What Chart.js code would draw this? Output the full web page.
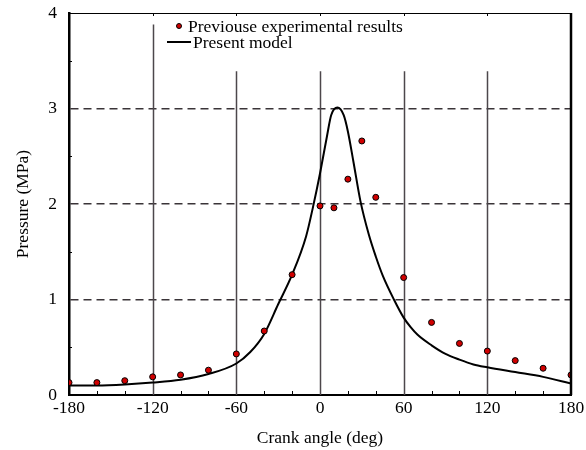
<!DOCTYPE html>
<html>
<head>
<meta charset="utf-8">
<script src="https://cdn.jsdelivr.net/npm/chart.js@4"></script>
<style>
  body { margin: 0; background: #fff; }
  #wrap { position: relative; width: 586px; height: 450px; }
  .legend { position: absolute; font: 17.5px "Liberation Serif", "Times New Roman", serif; color: #000; white-space: nowrap; line-height: 18px; }
  .dot { position: absolute; width: 4px; height: 4px; border-radius: 50%; background: #d00000; border: 1px solid #000; }
  .line { position: absolute; height: 2px; background: #000; }
</style>
</head>
<body>
<div id="wrap">
  <canvas id="chart" width="586" height="450"></canvas>
  <span class="dot" style="left:176px; top:23px;"></span>
  <span class="legend" style="left:188px; top:17px;">Previouse experimental results</span>
  <span class="line" style="left:167px; top:41px; width:24px;"></span>
  <span class="legend" style="left:193px; top:33px;">Present model</span>
</div>
<script>
// Previous experimental results (crank angle in deg, pressure in MPa)
const EXP_X = [-180, -160, -140, -120, -100, -80, -60, -40, -20, 0, 10, 20, 30, 40, 60, 80, 100, 120, 140, 160, 180];
const EXP_Y = [0.13, 0.13, 0.15, 0.19, 0.21, 0.26, 0.43, 0.67, 1.26, 1.98, 1.96, 2.26, 2.66, 2.07, 1.23, 0.76, 0.54, 0.46, 0.36, 0.28, 0.21];

// Present model curve
const MODEL_X = [-180, -160, -140, -120, -100, -80, -60, -50, -40, -30, -20, -10, -5, 0, 5, 8, 12.5, 17, 20, 24, 29, 35, 40, 45, 53, 60, 65, 70, 80, 90, 100, 110, 120, 140, 160, 180];
const MODEL_Y = [0.10, 0.10, 0.11, 0.13, 0.16, 0.22, 0.33, 0.45, 0.64, 0.95, 1.26, 1.66, 1.97, 2.32, 2.71, 2.93, 3.01, 2.93, 2.76, 2.44, 2.03, 1.68, 1.45, 1.25, 1.0, 0.81, 0.71, 0.63, 0.52, 0.43, 0.37, 0.32, 0.29, 0.24, 0.19, 0.12];

// Axis ticks
const X_TICKS = [-180, -120, -60, 0, 60, 120, 180];
const Y_TICKS = [0, 1, 2, 3, 4];
const X_MINOR = [-160, -140, -100, -80, -40, -20, 20, 40, 80, 100, 140, 160];
const Y_MINOR = [0.5, 1.5, 2.5, 3.5];

// Vertical reference lines and how high they reach (MPa)
const VLINE_X = [-120, -60, 0, 60, 120];
const VLINE_TOP = [3.88, 3.39, 3.39, 3.39, 3.39];

const FONT = { family: '"Liberation Serif", "Times New Roman", serif', size: 17.5 };

const toPoints = (xs, ys) => xs.map((x, i) => ({ x: x, y: ys[i] }));

// Draws the vertical lines, frame and small inward ticks
const framePlugin = {
  id: 'frame',
  beforeDatasetsDraw(chart) {
    const { ctx, scales: { x, y } } = chart;
    ctx.save();
    ctx.strokeStyle = '#4d474b';
    ctx.lineWidth = 1.5;
    VLINE_X.forEach((v, i) => {
      const px = Math.round(x.getPixelForValue(v)) + 0.5;
      ctx.beginPath();
      ctx.moveTo(px, y.getPixelForValue(VLINE_TOP[i]));
      ctx.lineTo(px, y.getPixelForValue(0));
      ctx.stroke();
    });
    ctx.restore();
  },
  afterDatasetsDraw(chart) {
    const { ctx, chartArea: a, scales: { x, y } } = chart;
    ctx.save();
    ctx.strokeStyle = '#000';
    // frame
    ctx.lineWidth = 1;
    ctx.beginPath();
    ctx.moveTo(a.left, a.top + 0.5);
    ctx.lineTo(a.right, a.top + 0.5);
    ctx.stroke();
    ctx.lineWidth = 2.5;
    ctx.beginPath();
    ctx.moveTo(a.right, a.top);
    ctx.lineTo(a.right, a.bottom);
    ctx.stroke();
    // minor ticks
    ctx.lineWidth = 1;
    X_MINOR.forEach(v => {
      const px = Math.round(x.getPixelForValue(v)) + 0.5;
      ctx.beginPath();
      ctx.moveTo(px, a.bottom);
      ctx.lineTo(px, a.bottom - 4);
      ctx.stroke();
    });
    X_TICKS.forEach(v => {
      const px = Math.round(x.getPixelForValue(v)) + 0.5;
      ctx.beginPath();
      ctx.moveTo(px, a.top);
      ctx.lineTo(px, a.top + 3);
      ctx.stroke();
    });
    Y_MINOR.forEach(v => {
      const py = Math.round(y.getPixelForValue(v)) + 0.5;
      ctx.beginPath();
      ctx.moveTo(a.left, py);
      ctx.lineTo(a.left + 3, py);
      ctx.stroke();
    });
    ctx.restore();
  }
};

new Chart(document.getElementById('chart'), {
  type: 'scatter',
  data: {
    datasets: [
      {
        label: 'Present model',
        type: 'line',
        data: toPoints(MODEL_X, MODEL_Y),
        borderColor: '#000',
        borderWidth: 2,
        pointRadius: 0,
        cubicInterpolationMode: 'monotone',
        fill: false,
        order: 2,
      },
      {
        label: 'Previouse experimental results',
        data: toPoints(EXP_X, EXP_Y),
        backgroundColor: '#d00000',
        borderColor: '#000',
        borderWidth: 1,
        pointRadius: 3,
        order: 1,
      },
    ],
  },
  options: {
    responsive: false,
    animation: false,
    layout: { padding: { top: 13, right: 15, left: 0, bottom: 0 } },
    plugins: {
      legend: { display: false },
      tooltip: { enabled: false },
    },
    scales: {
      x: {
        type: 'linear',
        min: -180,
        max: 180,
        afterBuildTicks: (s) => { s.ticks = X_TICKS.map(v => ({ value: v })); },
        afterFit: (s) => { s.height = 55; s.paddingLeft = 0; s.paddingRight = 0; },
        ticks: { font: FONT, color: '#000', padding: 3, maxRotation: 0 },
        grid: { display: false, drawTicks: false },
        border: { display: true, color: '#000', width: 2 },
        title: { display: true, text: 'Crank angle (deg)', font: FONT, color: '#000', padding: { bottom: 1 } },
      },
      y: {
        min: 0,
        max: 4,
        afterBuildTicks: (s) => { s.ticks = Y_TICKS.map(v => ({ value: v })); },
        afterFit: (s) => { s.width = 69; s.paddingTop = 0; s.paddingBottom = 0; },
        ticks: { font: FONT, color: '#000', padding: 12 },
        grid: {
          drawTicks: false,
          lineWidth: 1.5,
          color: (c) => (c.tick && c.tick.value > 0 && c.tick.value < 4) ? '#3a3438' : 'rgba(0,0,0,0)',
        },
        border: { display: true, color: '#000', width: 2.5, dash: [8, 5] },
        title: { display: true, text: 'Pressure (MPa)', font: FONT, color: '#000', padding: { top: 13 } },
      },
    },
  },
  plugins: [framePlugin],
});
</script>
</body>
</html>
